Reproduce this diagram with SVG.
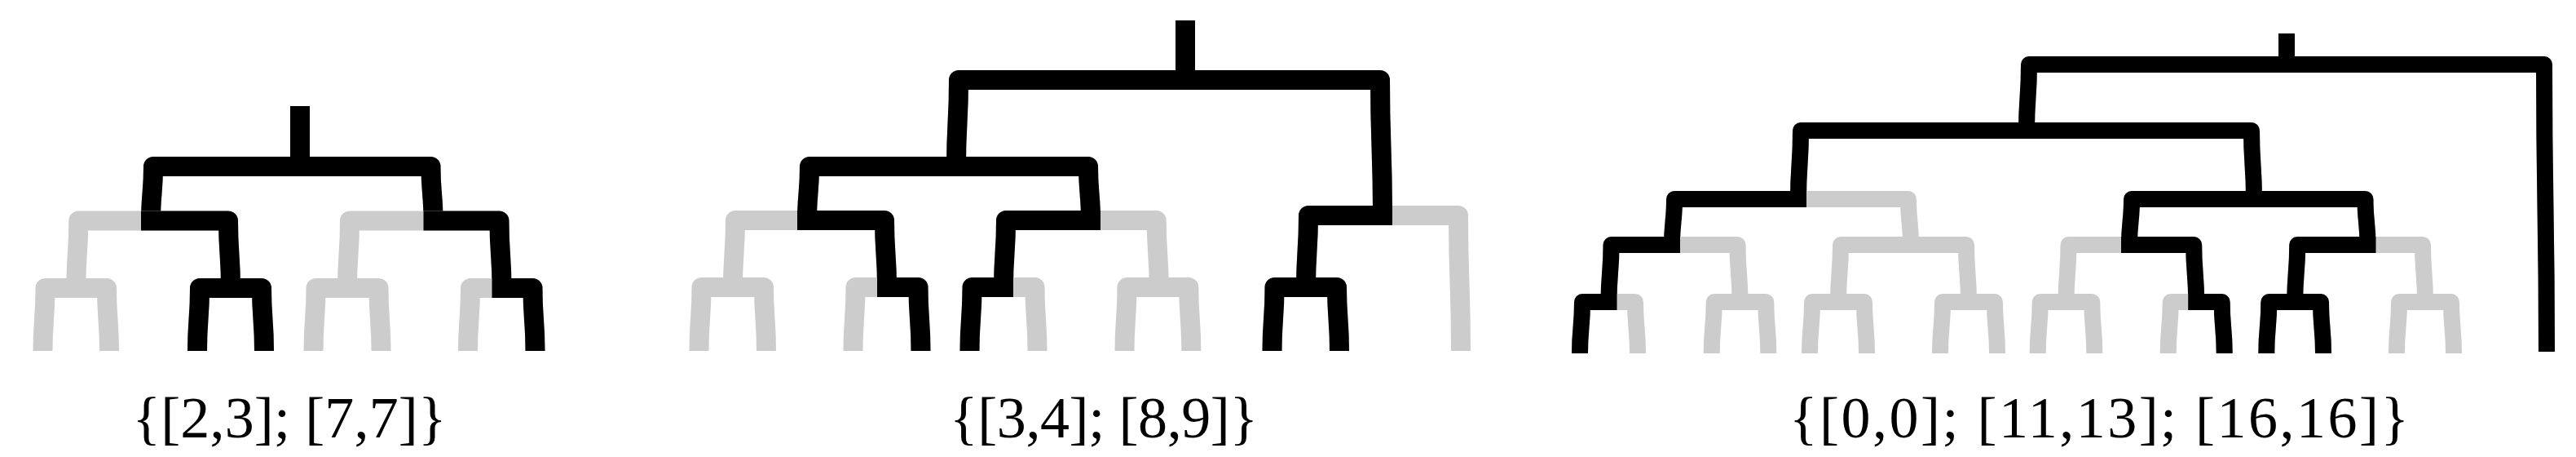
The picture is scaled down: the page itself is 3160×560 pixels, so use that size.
<svg xmlns="http://www.w3.org/2000/svg" width="3160" height="560" viewBox="0 0 3160 560">
<style>
.g{fill:none;stroke:#cccccc;stroke-linejoin:round;stroke-linecap:butt}
.k{fill:none;stroke:#000000;stroke-linejoin:round;stroke-linecap:butt}
.w24{stroke-width:24}
.w20{stroke-width:20}
.lbl{font-family:"Liberation Serif","DejaVu Serif",serif;font-size:72px;fill:#000;text-anchor:middle}
</style>
<rect width="3160" height="560" fill="#ffffff"/>
<g id="tree1" class="w24">
  <g id="t1-root">
    <path class="g" d="M185,270.5 C185,237.25 188,237.25 188,204 L528.5,204 C528.5,237.25 531.5,237.25 531.5,270.5"/>
    <path class="k" d="M368,204 L368,130"/>
    <path class="k" d="M185,270.5 C185,237.25 188,237.25 188,204 L528.5,204 C528.5,237.25 531.5,237.25 531.5,270.5"/>
  </g>
  <g id="t1-A">
    <path class="g" d="M93.3,353 C93.3,311.75 96.3,311.75 96.3,270.5 L280,270.5 C280,311.75 283,311.75 283,353"/>
    <path class="k" d="M173,270.5 L280,270.5 C280,311.75 283,311.75 283,353"/>
  </g>
  <g id="t1-B">
    <path class="g" d="M426,353 C426,311.75 429,311.75 429,270.5 L612.5,270.5 C612.5,311.75 615.5,311.75 615.5,353"/>
    <path class="k" d="M519.5,270.5 L612.5,270.5 C612.5,311.75 615.5,311.75 615.5,353"/>
  </g>
  <g id="t1-p01">
    <path class="g" d="M52.5,430 C52.5,391.5 55.5,391.5 55.5,353 L131,353 C131,391.5 134,391.5 134,430"/>
  </g>
  <g id="t1-p23">
    <path class="g" d="M242,430 C242,391.5 245,391.5 245,353 L321,353 C321,391.5 324,391.5 324,430"/>
    <path class="k" d="M242,430 C242,391.5 245,391.5 245,353 L321,353 C321,391.5 324,391.5 324,430"/>
  </g>
  <g id="t1-p45">
    <path class="g" d="M384.5,430 C384.5,391.5 387.5,391.5 387.5,353 L464.5,353 C464.5,391.5 467.5,391.5 467.5,430"/>
  </g>
  <g id="t1-p67">
    <path class="g" d="M574,430 C574,391.5 577,391.5 577,353 L653.5,353 C653.5,391.5 656.5,391.5 656.5,430"/>
    <path class="k" d="M603.5,353 L653.5,353 C653.5,391.5 656.5,391.5 656.5,430"/>
  </g>
</g>
<g id="tree2" class="w24">
  <g id="t2-root">
    <path class="g" d="M1173,204 C1173,151 1176,151 1176,98 L1693,98 C1693,181 1696,181 1696,264"/>
    <path class="k" d="M1454,98 L1454,25"/>
    <path class="k" d="M1173,204 C1173,151 1176,151 1176,98 L1693,98 C1693,181 1696,181 1696,264"/>
  </g>
  <g id="t2-L3">
    <path class="g" d="M990,270 C990,237 993,237 993,204 L1335,204 C1335,237 1338,237 1338,270"/>
    <path class="k" d="M990,270 C990,237 993,237 993,204 L1335,204 C1335,237 1338,237 1338,270"/>
  </g>
  <g id="t2-AB">
    <path class="g" d="M899,352 C899,311 902,311 902,270 L1085,270 C1085,311 1088,311 1088,352"/>
    <path class="k" d="M978,270 L1085,270 C1085,311 1088,311 1088,352"/>
  </g>
  <g id="t2-EF">
    <path class="g" d="M1231,352 C1231,311 1234,311 1234,270 L1418.7,270 C1418.7,311 1421.7,311 1421.7,352"/>
    <path class="k" d="M1350,270 L1234,270 C1234,311 1231,311 1231,352"/>
  </g>
  <g id="t2-IJK">
    <path class="g" d="M1602,352 C1602,308 1605,308 1605,264 L1789,264 C1789,347 1792,347 1792,430"/>
    <path class="k" d="M1708,264 L1605,264 C1605,308 1602,308 1602,352"/>
  </g>
  <g id="t2-ab">
    <path class="g" d="M857.5,430 C857.5,391 860.5,391 860.5,352 L937,352 C937,391 940,391 940,430"/>
  </g>
  <g id="t2-cd">
    <path class="g" d="M1046.5,430 C1046.5,391 1049.5,391 1049.5,352 L1126.5,352 C1126.5,391 1129.5,391 1129.5,430"/>
    <path class="k" d="M1076,352 L1126.5,352 C1126.5,391 1129.5,391 1129.5,430"/>
  </g>
  <g id="t2-ef">
    <path class="g" d="M1189.5,430 C1189.5,391 1192.5,391 1192.5,352 L1269.5,352 C1269.5,391 1272.5,391 1272.5,430"/>
    <path class="k" d="M1243,352 L1192.5,352 C1192.5,391 1189.5,391 1189.5,430"/>
  </g>
  <g id="t2-gh">
    <path class="g" d="M1379.5,430 C1379.5,391 1382.5,391 1382.5,352 L1458.3,352 C1458.3,391 1461.3,391 1461.3,430"/>
  </g>
  <g id="t2-ij">
    <path class="g" d="M1560.5,430 C1560.5,391 1563.5,391 1563.5,352 L1640,352 C1640,391 1643,391 1643,430"/>
    <path class="k" d="M1560.5,430 C1560.5,391 1563.5,391 1563.5,352 L1640,352 C1640,391 1643,391 1643,430"/>
  </g>
</g>
<g id="tree3" class="w20">
  <g id="t3-root">
    <path class="g" d="M2486,160 C2486,119.5 2489,119.5 2489,79 L3121,79 C3121,255 3124,255 3124,431"/>
    <path class="k" d="M2805,79 L2805,41"/>
    <path class="k" d="M2486,160 C2486,119.5 2489,119.5 2489,79 L3121,79 C3121,255 3124,255 3124,431"/>
  </g>
  <g id="t3-L4">
    <path class="g" d="M2206,244 C2206,202 2209,202 2209,160 L2762,160 C2762,202 2765,202 2765,244"/>
    <path class="k" d="M2206,244 C2206,202 2209,202 2209,160 L2762,160 C2762,202 2765,202 2765,244"/>
  </g>
  <g id="t3-L3a">
    <path class="g" d="M2051,300 C2051,272 2054,272 2054,244 L2341,244 C2341,272 2344,272 2344,300"/>
    <path class="k" d="M2216,244 L2054,244 C2054,272 2051,272 2051,300"/>
  </g>
  <g id="t3-L3b">
    <path class="g" d="M2612,300 C2612,272 2615,272 2615,244 L2901.5,244 C2901.5,272 2904.5,272 2904.5,300"/>
    <path class="k" d="M2612,300 C2612,272 2615,272 2615,244 L2901.5,244 C2901.5,272 2904.5,272 2904.5,300"/>
  </g>
  <g id="t3-L2a">
    <path class="g" d="M1973.5,370 C1973.5,335 1976.5,335 1976.5,300 L2131.5,300 C2131.5,335 2134.5,335 2134.5,370"/>
    <path class="k" d="M2061,300 L1976.5,300 C1976.5,335 1973.5,335 1973.5,370"/>
  </g>
  <g id="t3-L2b">
    <path class="g" d="M2255,370 C2255,335 2258,335 2258,300 L2412,300 C2412,335 2415,335 2415,370"/>
  </g>
  <g id="t3-L2c">
    <path class="g" d="M2534.5,370 C2534.5,335 2537.5,335 2537.5,300 L2691.2,300 C2691.2,335 2694.2,335 2694.2,370"/>
    <path class="k" d="M2602,300 L2691.2,300 C2691.2,335 2694.2,335 2694.2,370"/>
  </g>
  <g id="t3-L2d">
    <path class="g" d="M2815.2,370 C2815.2,335 2818.2,335 2818.2,300 L2972,300 C2972,335 2975,335 2975,370"/>
    <path class="k" d="M2914.5,300 L2818.2,300 C2818.2,335 2815.2,335 2815.2,370"/>
  </g>
  <g id="t3-p0">
    <path class="g" d="M1938,433 C1938,401.5 1941,401.5 1941,370 L2006,370 C2006,401.5 2009,401.5 2009,433"/>
    <path class="k" d="M1983.5,370 L1941,370 C1941,401.5 1938,401.5 1938,433"/>
  </g>
  <g id="t3-p1">
    <path class="g" d="M2099.7,433 C2099.7,401.5 2102.7,401.5 2102.7,370 L2166.3,370 C2166.3,401.5 2169.3,401.5 2169.3,433"/>
  </g>
  <g id="t3-p2">
    <path class="g" d="M2220,433 C2220,401.5 2223,401.5 2223,370 L2287,370 C2287,401.5 2290,401.5 2290,433"/>
  </g>
  <g id="t3-p3">
    <path class="g" d="M2380,433 C2380,401.5 2383,401.5 2383,370 L2447,370 C2447,401.5 2450,401.5 2450,433"/>
  </g>
  <g id="t3-p4">
    <path class="g" d="M2499.7,433 C2499.7,401.5 2502.7,401.5 2502.7,370 L2566.3,370 C2566.3,401.5 2569.3,401.5 2569.3,433"/>
  </g>
  <g id="t3-p5">
    <path class="g" d="M2659.7,433 C2659.7,401.5 2662.7,401.5 2662.7,370 L2725.7,370 C2725.7,401.5 2728.7,401.5 2728.7,433"/>
    <path class="k" d="M2684.2,370 L2725.7,370 C2725.7,401.5 2728.7,401.5 2728.7,433"/>
  </g>
  <g id="t3-p6">
    <path class="g" d="M2780.3,433 C2780.3,401.5 2783.3,401.5 2783.3,370 L2847,370 C2847,401.5 2850,401.5 2850,433"/>
    <path class="k" d="M2780.3,433 C2780.3,401.5 2783.3,401.5 2783.3,370 L2847,370 C2847,401.5 2850,401.5 2850,433"/>
  </g>
  <g id="t3-p7">
    <path class="g" d="M2940,433 C2940,401.5 2943,401.5 2943,370 L3007,370 C3007,401.5 3010,401.5 3010,433"/>
  </g>
</g>
<g id="label1"><text class="lbl" x="355" y="536" textLength="385" lengthAdjust="spacing">{[2,3]; [7,7]}</text></g>
<g id="label2"><text class="lbl" x="1354" y="536" textLength="378" lengthAdjust="spacing">{[3,4]; [8,9]}</text></g>
<g id="label3"><text class="lbl" x="2575" y="536" textLength="760" lengthAdjust="spacing">{[0,0]; [11,13]; [16,16]}</text></g>
</svg>
